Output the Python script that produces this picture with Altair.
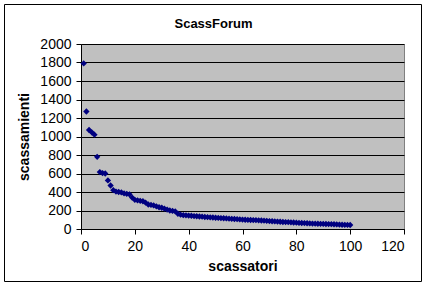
import altair as alt
import pandas as pd

scassatori = list(range(1, 101))
scassamienti = [
    1790, 1270, 1070, 1045, 1020, 780, 615, 605, 600, 525,
    470, 420, 405, 400, 395, 385, 380, 375, 340, 315,
    310, 305, 300, 285, 265, 260, 255, 245, 235, 230,
    220, 210, 200, 195, 190, 165, 155, 150, 148, 145,
    143, 140, 138, 135, 133, 130, 128, 126, 124, 122,
    120, 118, 116, 114, 112, 110, 108, 106, 104, 102,
    100, 98, 97, 96, 95, 94, 92, 90, 88, 86,
    84, 82, 80, 78, 76, 75, 74, 72, 70, 68,
    66, 65, 64, 62, 60, 59, 58, 57, 56, 55,
    54, 53, 52, 51, 50, 48, 46, 45, 44, 43,
]
x_ticks = [0, 20, 40, 60, 80, 100, 120]
y_ticks = [0, 200, 400, 600, 800, 1000, 1200, 1400, 1600, 1800, 2000]
chart_title = "ScassForum"

df = pd.DataFrame({"scassatori": scassatori, "scassamienti": scassamienti})

FONT = "Liberation Sans"
W, H = 323, 185
PAD = {"left": 81, "top": 44, "right": 19, "bottom": 54}

points = alt.Chart(df).mark_point(
    shape="diamond", filled=True, color="#000080", size=40, opacity=1
).encode(
    x=alt.X("scassatori:Q", scale=alt.Scale(domain=[0, 120], nice=False),
            axis=alt.Axis(values=x_ticks, title="scassatori", grid=False, format="d")),
    y=alt.Y("scassamienti:Q", scale=alt.Scale(domain=[0, 2000], nice=False),
            axis=alt.Axis(values=y_ticks, title="scassamienti", grid=True, format="d")),
)

border = alt.Chart(pd.DataFrame({"a": [0]})).mark_rect(
    fill=None, stroke="black", strokeWidth=1
).encode(
    x=alt.value(-76.5), x2=alt.value(W + 17.5),
    y=alt.value(-39.5), y2=alt.value(H + 52.5),
)

title_text = alt.Chart(pd.DataFrame({"t": [chart_title]})).mark_text(
    font=FONT, fontSize=13, fontWeight="bold", color="black",
    align="center", baseline="middle"
).encode(
    text="t:N", x=alt.value(W / 2 - 29), y=alt.value(-20),
)

chart = alt.layer(border, points, title_text).properties(
    width=W, height=H,
    padding=PAD,
    autosize=alt.AutoSizeParams(type="none"),
    background="white",
).configure_view(
    fill="#C0C0C0", stroke="#808080", strokeWidth=1
).configure_axis(
    labelFont=FONT, labelFontSize=14, labelColor="black",
    titleFont=FONT, titleFontSize=14, titleFontWeight="bold", titleColor="black",
    domainColor="black", tickColor="black", tickSize=5,
    gridColor="black", gridOpacity=1, gridWidth=1,
).configure_axisX(
    labelPadding=5, titlePadding=6,
).configure_axisY(
    labelPadding=5, titlePadding=8,
)

chart.save("out.html", embed_options={"renderer": "svg", "actions": False})
